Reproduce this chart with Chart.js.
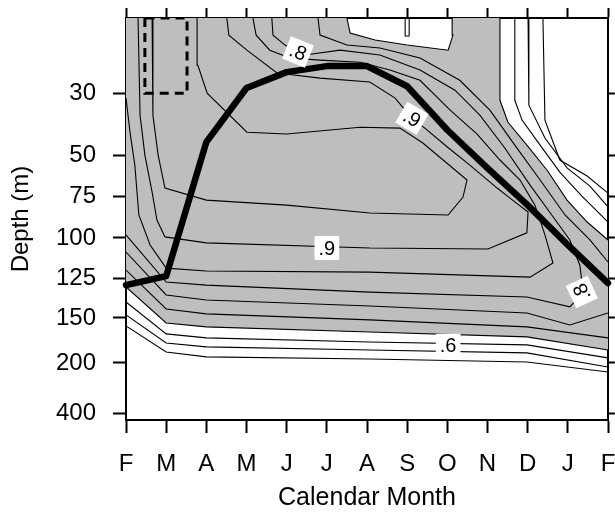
<!DOCTYPE html>
<html>
<head>
<meta charset="utf-8">
<script src="https://cdn.jsdelivr.net/npm/chart.js@4.4.0/dist/chart.umd.min.js"></script>
<style>
  html, body { margin: 0; padding: 0; background: #fff; }
</style>
</head>
<body>
<canvas id="grafico" width="615" height="515"></canvas>
<script>
// --- dados ---
const meses = ['F', 'M', 'A', 'M', 'J', 'J', 'A', 'S', 'O', 'N', 'D', 'J', 'F'];
const profTicks = [30, 50, 75, 100, 125, 150, 200, 400];

// eixo de profundidade esticado: profundidade (m) -> fracao da altura do eixo
const profNos = [5, 30, 50, 75, 100, 125, 150, 200, 400, 428];
const fracNos = [0, 0.187, 0.341, 0.443, 0.547, 0.647, 0.746, 0.858, 0.983, 1];

// linha grossa (profundidade por mes, F..F)
const camadaMistura = [129.4, 123.8, 45.8, 28.3, 23, 21, 21, 27.7, 41.9, 57.9, 80.4, 104.4, 128.1];

// caixa tracejada [mes, prof]
const caixa = [[0.47, 5], [0.47, 30], [1.52, 30], [1.52, 5], [0.47, 5]];

// isolinhas [mes, prof]
const iso95 = [[0.65,5],[0.67,37.1],[0.8,50],[0.97,70.1],[2.0,77.4],[4.0,80.4],[6.07,85.1],[8.02,86.3],[8.39,75.6],[8.49,65.2],[7.39,46.1],[6.82,41.3],[5.83,41],[4.0,43.2],[3.01,42.6],[2.02,30],[1.79,20.7],[1.77,5]];
const iso90 = [[0.3,5],[0.35,37.1],[0.47,50],[0.65,72.6],[0.77,89.3],[0.97,99.4],[2.0,103.1],[6.07,106.3],[9.01,106.9],[9.98,97],[10.01,84.5],[9.56,76.2],[9.24,70.1],[8.56,56.1],[8.0,47.4],[7.44,41.3],[7.12,38.1],[6.7,31.6],[6.07,26.3],[4.83,25],[3.76,23.3],[3.01,15.7],[2.56,10.7],[2.51,5]];
const iso85 = [[0,31.6],[0.1,42.6],[0.22,56.1],[0.32,86.3],[0.6,104.4],[1.0,118.8],[2.0,120.6],[6.07,121.3],[10.06,124.4],[10.63,115.6],[10.43,98.2],[10.18,80.4],[9.81,65.2],[9.31,53],[8.74,43.2],[8.07,35.5],[7.32,25.7],[6.57,22.3],[5.83,19.7],[4.83,19],[4.08,18.3],[3.58,15.7],[3.24,10.7],[3.16,5]];
const iso80 = [[0,98.2],[1.0,127.5],[2.0,129.4],[6.07,133.8],[9.98,136.9],[11.05,143.1],[11.38,134.4],[11.3,117],[11.05,101.3],[10.6,86.3],[10.06,68.3],[9.43,47.7],[8.81,37.1],[8.19,29],[7.32,22.3],[6.32,17.3],[5.33,15.7],[4.46,17.3],[4.28,16.3],[3.96,14],[3.66,10.7],[3.63,5]];
const iso75 = [[0,108.8],[1.0,135.6],[2.0,138.8],[6.07,142.5],[9.98,146.9],[11.05,157.8],[12,146.9]];
const iso75Topo = [[4.78,5],[4.83,10.7],[5.5,14],[6.32,15],[7.32,18.3],[8.31,25.7],[9.06,35.5],[9.68,46.8],[10.31,65.2],[10.93,86.3],[11.55,101.3],[12,115]];
const iso70 = [[0,120],[1.0,144.4],[2.0,147.5],[6.07,152.2],[9.98,160],[12,172.2]];
const iso65 = [[0,130.6],[1.0,155.6],[2.0,160],[6.07,165.6],[9.98,171.1],[12,185.6]];
const iso65Dir = [[9.31,5],[9.31,32.3],[9.51,39.4],[9.98,46.8],[10.48,59.1],[10.98,77.4],[11.48,90.5],[12,101.3]];
const iso65Bolha = [[5.5,5],[5.58,10],[6.2,12.3],[7.0,14],[8.02,15.7],[8.14,10.7],[8.12,5]];
const iso60Bolha = [[6.95,5],[6.95,11],[7.05,11],[7.05,5]];
const iso60 = [[0,140],[1.0,167.8],[2.0,172.2],[6.07,176.7],[9.98,180],[12,194.4]];
const iso60Dir = [[9.68,5],[9.68,32.3],[9.86,38.7],[10.31,46.8],[10.8,60.4],[11.35,75],[12,90.5]];
const iso55 = [[0,148.1],[1.0,177.8],[2.0,182.2],[6.07,185.6],[9.98,188.9],[12,216]];
const iso55Dir = [[10.01,5],[10.03,33.9],[10.43,44.5],[10.98,57.8],[11.55,68.9],[12,81.5]];
const iso50 = [[0,158.9],[1.0,187.8],[2.0,193.3],[6.07,195.6],[9.98,198.9],[12,236]];
const iso50Dir = [[10.38,5],[10.43,38.7],[10.8,53],[11.48,62.8],[12,73.2]];

// rotulos das isolinhas
const rotulos = [
  { txt: '.8', mes: 4.28, prof: 16.3, ang: 22 },
  { txt: '.9', mes: 7.12, prof: 38.1, ang: 30 },
  { txt: '.9', mes: 5.0, prof: 106.3, ang: 0 },
  { txt: '.6', mes: 8.02, prof: 181, ang: 0 },
  { txt: '.8', mes: 11.35, prof: 133.8, ang: -115 }
];

const fonte = '"Liberation Sans", Arial, Helvetica, sans-serif';

// --- escala de profundidade ---
function fracDe(d) {
  if (d <= profNos[0]) return fracNos[0];
  for (let i = 1; i < profNos.length; i++) {
    if (d <= profNos[i]) {
      const t = (d - profNos[i - 1]) / (profNos[i] - profNos[i - 1]);
      return fracNos[i - 1] + t * (fracNos[i] - fracNos[i - 1]);
    }
  }
  return 1;
}

class DepthScale extends Chart.LinearScale {
  static id = 'depth';
  static defaults = Chart.LinearScale.defaults;
  getPixelForValue(v) {
    return this.getPixelForDecimal(fracDe(v));
  }
}
Chart.register(DepthScale);

const pontos = arr => arr.map(([x, y]) => ({ x, y }));
const isolinha = arr => ({
  data: pontos(arr),
  showLine: true,
  borderColor: '#000',
  borderWidth: 1.1,
  pointRadius: 0,
  fill: false,
  tension: 0,
  order: 2
});

// poligono cinza (area acima de .65)
const areaCinza = [[0, 5]].concat(iso65Bolha, iso65Dir, iso65.slice().reverse());

const isolinhas = [iso95, iso90, iso85, iso80, iso75, iso75Topo, iso70, iso65, iso65Dir, iso65Bolha,
  iso60Bolha, iso60, iso60Dir, iso55, iso55Dir, iso50, iso50Dir];

const datasets = [
  {
    data: camadaMistura.map((p, i) => ({ x: i, y: p })),
    showLine: true, borderColor: '#000', borderWidth: 6.5, pointRadius: 0,
    borderJoinStyle: 'round', borderCapStyle: 'round', tension: 0, clip: false, order: 0
  },
  {
    data: pontos(caixa),
    showLine: true, borderColor: '#000', borderWidth: 3, borderDash: [9, 6],
    pointRadius: 0, tension: 0, order: 1
  },
  ...isolinhas.map(isolinha),
  {
    data: pontos(areaCinza),
    showLine: true, borderWidth: 0, borderColor: 'rgba(0,0,0,0)',
    backgroundColor: 'rgb(190,190,190)', fill: 'shape', pointRadius: 0, tension: 0, order: 3
  }
];

// fixa o tamanho do eixo e zera o recuo extra dos rotulos
const tamanho = (w, h) => s => {
  if (w !== null) s.width = w;
  if (h !== null) s.height = h;
  s.paddingTop = 0; s.paddingBottom = 0; s.paddingLeft = 0; s.paddingRight = 0;
};

const eixoX = (pos, extra) => Object.assign({
  type: 'linear', position: pos, min: 0, max: 12,
  afterBuildTicks: s => { s.ticks = meses.map((m, i) => ({ value: i })); },
  grid: { drawOnChartArea: false, tickLength: 13, tickWidth: 2, tickColor: '#000' },
  border: { color: '#000', width: 2 }
}, extra);

const eixoY = (pos, extra) => Object.assign({
  type: 'depth', position: pos, min: 5, max: 428, reverse: true,
  afterBuildTicks: s => { s.ticks = profTicks.map(v => ({ value: v })); },
  grid: { drawOnChartArea: false, tickLength: 13, tickWidth: 2, tickColor: '#000' },
  border: { color: '#000', width: 2 }
}, extra);

const ctx = document.getElementById('grafico').getContext('2d');
new Chart(ctx, {
  type: 'scatter',
  data: { datasets },
  options: {
    responsive: false,
    animation: false,
    events: [],
    layout: { padding: 0 },
    plugins: { legend: { display: false }, tooltip: { enabled: false } },
    scales: {
      x: eixoX('bottom', {
        ticks: { autoSkip: false, maxRotation: 0, color: '#000', padding: 17,
                 font: { family: fonte, size: 24 }, callback: v => meses[v] },
        title: { display: true, text: 'Calendar Month', color: '#000',
                 font: { family: fonte, size: 25 }, padding: { top: 0, bottom: 2 } },
        afterFit: tamanho(null, 95)
      }),
      xTopo: eixoX('top', {
        ticks: { display: false },
        grid: { drawOnChartArea: false, tickLength: 10, tickWidth: 2, tickColor: '#000' },
        afterFit: tamanho(null, 18)
      }),
      y: eixoY('left', {
        ticks: { autoSkip: false, color: '#000', padding: 17,
                 font: { family: fonte, size: 24 }, callback: v => String(v) },
        title: { display: true, text: 'Depth (m)', color: '#000',
                 font: { family: fonte, size: 24 }, padding: { top: 7 } },
        afterFit: tamanho(126, null)
      }),
      yDir: eixoY('right', {
        ticks: { display: false },
        afterFit: tamanho(7, null)
      })
    }
  },
  plugins: [{
    id: 'rotulos',
    afterDatasetsDraw(chart) {
      const c = chart.ctx;
      const sx = chart.scales.x, sy = chart.scales.y;
      c.save();
      c.font = '20px ' + fonte;
      rotulos.forEach(r => {
        const px = sx.getPixelForValue(r.mes);
        const py = sy.getPixelForValue(r.prof);
        c.save();
        c.translate(px, py);
        c.rotate(r.ang * Math.PI / 180);
        const w = c.measureText(r.txt).width + 8;
        c.fillStyle = '#fff';
        c.fillRect(-w / 2, -12, w, 24);
        c.fillStyle = '#000';
        c.textAlign = 'center';
        c.textBaseline = 'middle';
        c.fillText(r.txt, 0, 1);
        c.restore();
      });
      c.restore();
    }
  }]
});
</script>
</body>
</html>
